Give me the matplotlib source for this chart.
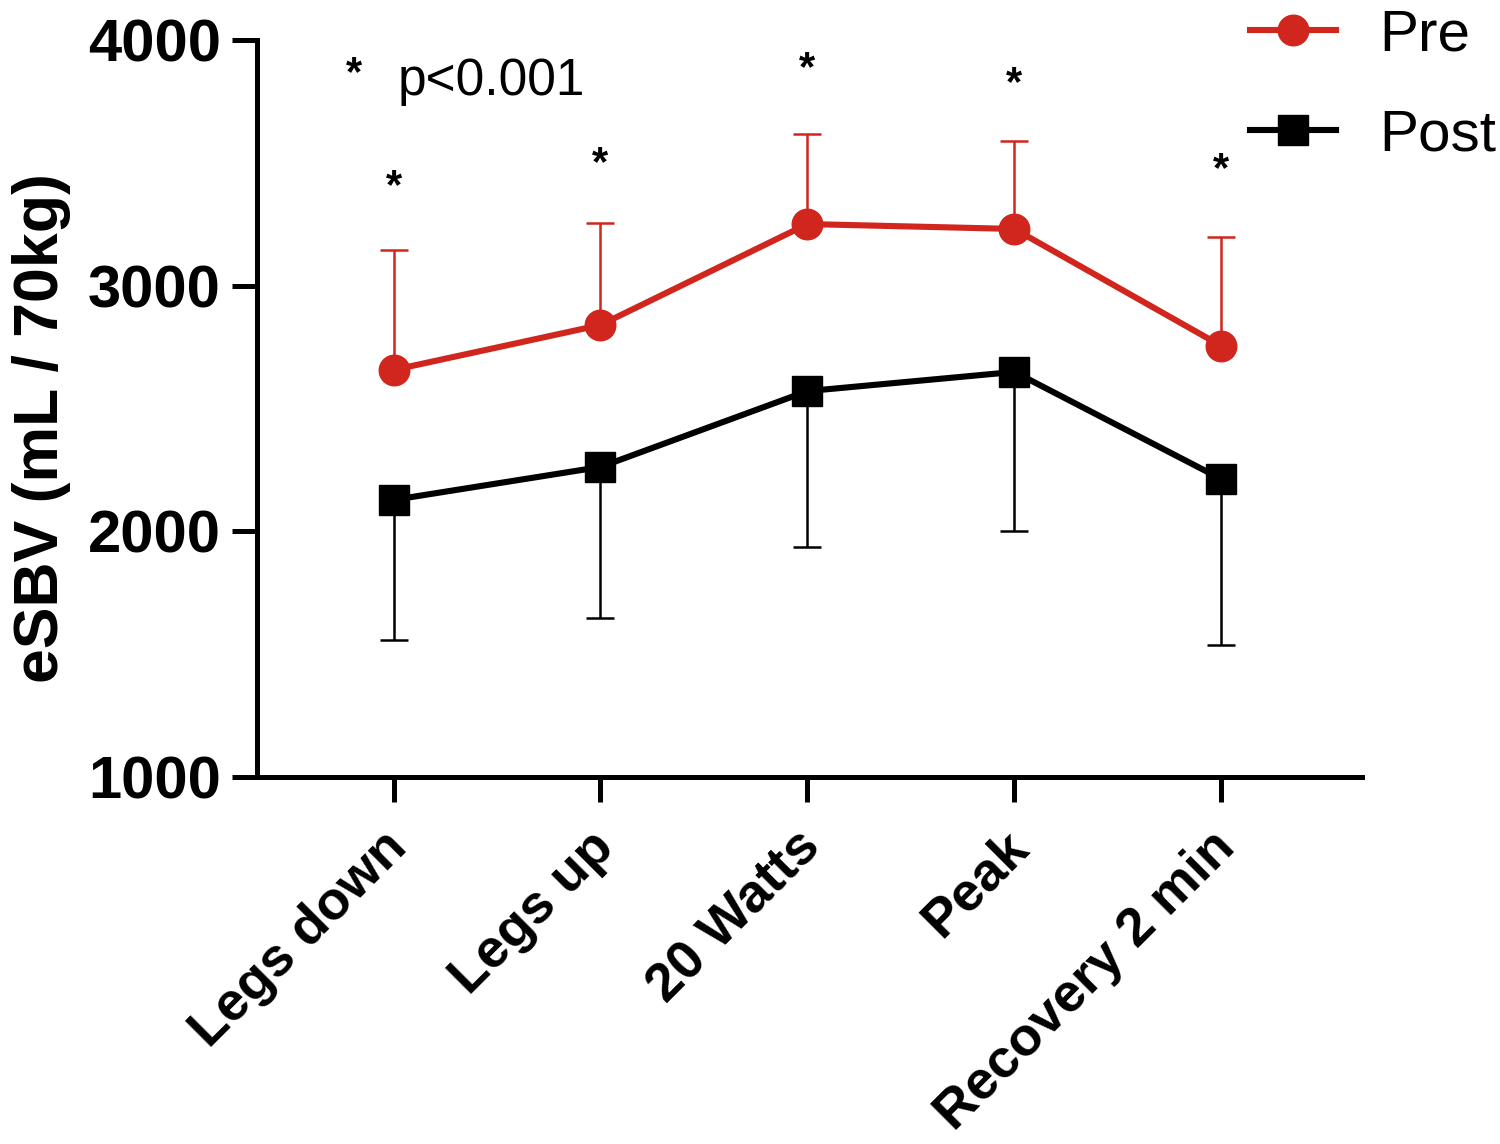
import matplotlib as mpl
import matplotlib.pyplot as plt
import matplotlib.transforms as mtransforms
from matplotlib.lines import Line2D
import numpy as np

mpl.rcParams['font.family'] = ['Liberation Sans', 'DejaVu Sans']

# data
stages = ["Legs down", "Legs up", "20 Watts", "Peak", "Recovery 2 min"]
pre_mean = [2657, 2840, 3251, 3231, 2755]
pre_upper = [3145, 3255, 3617, 3589, 3198]
post_mean = [2128, 2262, 2571, 2649, 2213]
post_lower = [1558, 1647, 1937, 2002, 1538]
star_y = [3400, 3495, 3880, 3820, 3470]

x = np.arange(len(stages))
pre_err = np.array(pre_upper) - np.array(pre_mean)
post_err = np.array(post_mean) - np.array(post_lower)

fig = plt.figure(figsize=(15, 11.44), dpi=100)
ax = fig.add_axes([0.1713, 0.3208, 0.7367, 0.6442])

red = "#d0261d"
lw = 4.4
ax.errorbar(x, post_mean, yerr=[post_err, np.zeros(5)], color="black", lw=lw,
            marker="s", markersize=22, elinewidth=1.8, capsize=10, capthick=1.8,
            zorder=3)
ax.errorbar(x, pre_mean, yerr=[np.zeros(5), pre_err], color=red, lw=lw,
            marker="o", markersize=22, elinewidth=1.8, capsize=10, capthick=1.8,
            zorder=4)

# significance marks
for xi, yi in zip(x, star_y):
    ax.text(xi, yi, "*", ha="center", va="center", fontsize=30, fontweight="bold")
ax.text(-0.19, 3860, "*", ha="center", va="center", fontsize=30, fontweight="bold")
ax.text(0.02, 3830, "p<0.001", ha="left", va="center", fontsize=37)

ax.set_xlim(-0.66, 4.68)
ax.set_ylim(1000, 4000)
ax.set_yticks([1000, 2000, 3000, 4000])
ax.set_xticks(x)

for s in ["top", "right"]:
    ax.spines[s].set_visible(False)
for s in ["left", "bottom"]:
    ax.spines[s].set_linewidth(3.6)
ax.tick_params(axis="both", length=18, width=3.6, pad=8)
ax.tick_params(axis="x", pad=14)

ax.set_xticklabels(stages, rotation=45, ha="right", rotation_mode="anchor",
                   fontsize=39, fontweight="bold")
shift = mtransforms.ScaledTranslation(-12 / 100, 0, fig.dpi_scale_trans)
for lab in ax.get_xticklabels():
    lab.set_transform(lab.get_transform() + shift)
for lab in ax.get_yticklabels():
    lab.set_fontsize(43)
    lab.set_fontweight("bold")
ax.set_ylabel("eSBV (mL / 70kg)", fontsize=45, fontweight="bold")
ax.yaxis.set_label_coords(-0.168, 0.4735)

handles = [Line2D([], [], color=red, lw=lw, marker="o", markersize=22),
           Line2D([], [], color="black", lw=lw, marker="s", markersize=22)]
fig.legend(handles, ["Pre", "Post"], loc="upper left", bbox_to_anchor=(0.8333, 0.9925),
           frameon=False, fontsize=42, handlelength=1.47, labelspacing=0.79,
           handletextpad=0.74, borderpad=0, borderaxespad=0)

fig.savefig("out.png", dpi=100)
